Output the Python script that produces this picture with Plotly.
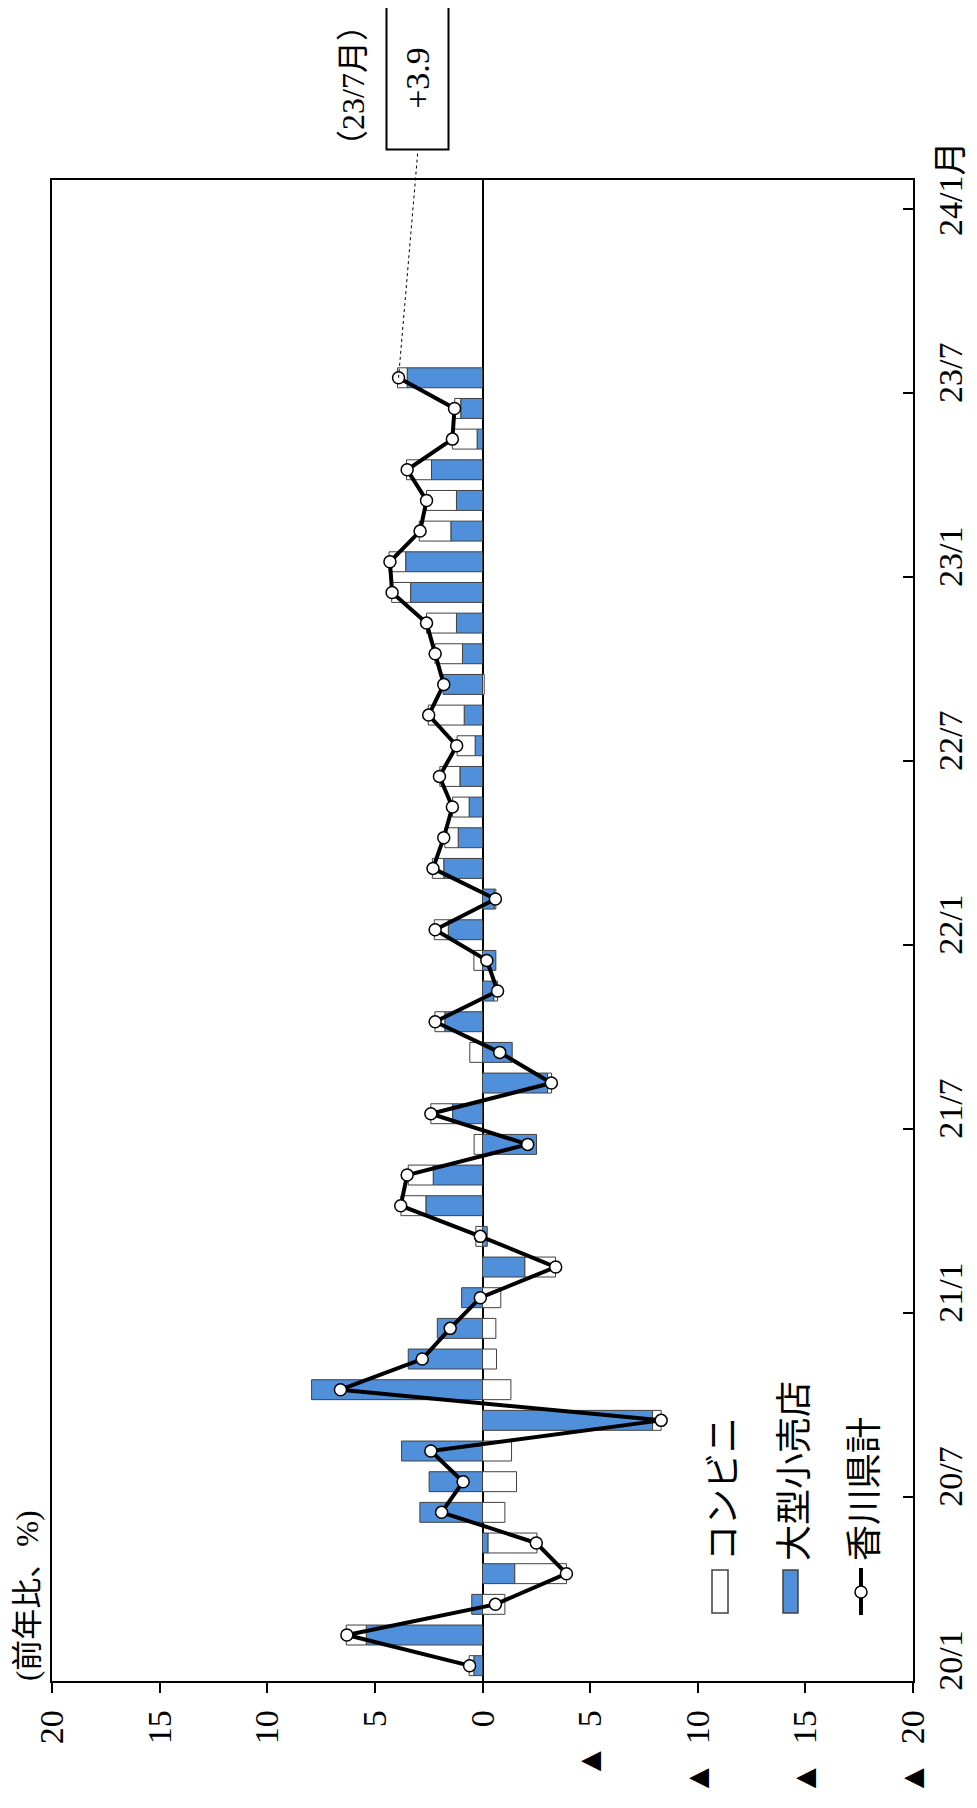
import plotly.graph_objects as go

# months on the time axis: 20/1 .. 24/1 (data ends at 23/7)
months = []
for yy in range(20, 25):
    for mm in range(1, 13):
        months.append(f"{yy}/{mm}")
axis_months = months[:months.index("24/1") + 1]
data_months = months[:months.index("23/7") + 1]

# 大型小売店 (percent points)
large_store = [0.40, 5.40, 0.50, -1.50, -0.26, 2.91, 2.48, 3.76, -7.90, 7.94, 3.45, 2.10,
               0.97, -1.97, -0.22, 2.63, 2.29, -2.51, 1.39, -3.02, -1.38, 1.75, -0.53, -0.62,
               1.59, -0.55, 1.80, 1.13, 0.62, 1.05, 0.34, 0.85, 1.83, 0.93, 1.21, 3.34,
               3.57, 1.47, 1.21, 2.37, 0.25, 1.01, 3.50]
# コンビニ
convenience = [0.22, 0.93, -1.04, -2.40, -2.27, -1.04, -1.58, -1.35, -0.40, -1.32, -0.65, -0.62,
               -0.85, -1.42, 0.31, 1.16, 1.16, 0.39, 1.01, -0.19, 0.59, 0.46, -0.17, 0.40,
               0.65, -0.07, 0.53, 0.62, 0.77, 0.93, 0.84, 1.67, -0.08, 1.28, 1.39, 0.88,
               0.77, 1.47, 1.39, 1.16, 1.15, 0.28, 0.45]
# 香川県計
total = [0.6, 6.3, -0.6, -3.9, -2.5, 1.9, 0.9, 2.4, -8.3, 6.6, 2.8, 1.5,
         0.1, -3.4, 0.1, 3.8, 3.5, -2.1, 2.4, -3.2, -0.8, 2.2, -0.7, -0.2,
         2.2, -0.6, 2.3, 1.8, 1.4, 2.0, 1.2, 2.5, 1.8, 2.2, 2.6, 4.2,
         4.3, 2.9, 2.6, 3.5, 1.4, 1.3, 3.9]

tick_months = ["20/1", "20/7", "21/1", "21/7", "22/1", "22/7", "23/1", "23/7", "24/1"]
tick_month_text = ["20/1", "20/7", "21/1", "21/7", "22/1", "22/7", "23/1", "23/7", "24/1月"]
value_ticks = [20, 15, 10, 5, 0, -5, -10, -15, -20]
value_text = ["20", "15", "10", "5", "0", "▲\u20025", "▲\u200210", "▲\u200215", "▲\u200220"]

BLUE = "#508FDA"
EDGE = "#404040"
FONT = "'Liberation Serif', 'Noto Sans CJK JP', serif"
JP_FONT = "'Noto Sans CJK JP', sans-serif"

# page size and plot area in page pixels; the html body adds an 8px margin
W, H = 977, 1808
BODY = 8
PL, PR, PT, PB = 52, 913, 180, 1681
Y_RANGE = [-0.5, 48.45]


def px(x):
    return (x - PL) / (PR - PL)


def py(y):
    return (PB - y) / (PB - PT)


fig = go.Figure()

fig.add_trace(go.Bar(
    x=large_store, y=data_months, orientation="h", name="大型小売店",
    marker=dict(color=BLUE, line=dict(color=EDGE, width=1)), width=0.65
))
fig.add_trace(go.Bar(
    x=convenience, y=data_months, orientation="h", name="コンビニ",
    marker=dict(color="white", line=dict(color=EDGE, width=1)), width=0.65
))
fig.add_trace(go.Scatter(
    x=total, y=data_months, mode="lines+markers", name="香川県計",
    line=dict(color="black", width=4),
    marker=dict(size=12, color="white", line=dict(color="black", width=1.5))
))

# hand-made legend (rotated like the rest of the chart)
shapes = [
    dict(type="rect", xref="paper", yref="paper", x0=px(712), x1=px(728), y0=py(1613), y1=py(1570),
         fillcolor="white", line=dict(color=EDGE, width=1.5)),
    dict(type="rect", xref="paper", yref="paper", x0=px(783), x1=px(798), y0=py(1613), y1=py(1570),
         fillcolor=BLUE, line=dict(color=EDGE, width=1.5)),
    dict(type="line", xref="paper", yref="paper", x0=px(861), x1=px(861), y0=py(1615), y1=py(1568),
         line=dict(color="black", width=4)),
    dict(type="circle", xref="paper", yref="paper", x0=px(855), x1=px(867), y0=py(1598), y1=py(1586),
         fillcolor="white", line=dict(color="black", width=1.5)),
]

# leader line from the last point to the callout box
last_idx = len(total) - 1
shapes.append(dict(
    type="line", xref="x", yref="y domain",
    x0=total[-1], y0=(last_idx - Y_RANGE[0]) / (Y_RANGE[1] - Y_RANGE[0]),
    x1=(482.7 - 418) / 21.54, y1=py(151),
    line=dict(color="black", width=1, dash="3px,3px")
))

annotations = []
for label, xc in [("コンビニ", 720), ("大型小売店", 791), ("香川県計", 861)]:
    annotations.append(dict(
        text=label, xref="paper", yref="paper", x=px(xc), y=py(1563),
        xanchor="center", yanchor="bottom", textangle=-90, showarrow=False,
        font=dict(size=36, color="black", family=JP_FONT)
    ))

annotations.append(dict(
    text="(前年比、%)", xref="paper", yref="paper", x=px(27), y=py(1683),
    xanchor="center", yanchor="bottom", textangle=-90, showarrow=False,
    font=dict(size=31, color="black", family=FONT)
))
annotations.append(dict(
    text="（23/7月）", xref="paper", yref="paper", x=px(353), y=py(86),
    xanchor="center", yanchor="middle", textangle=-90, showarrow=False,
    font=dict(size=32, color="black", family=FONT)
))
annotations.append(dict(
    text=f"+{total[-1]:.1f}", xref="paper", yref="paper", x=px(418), y=py(78.5),
    xanchor="center", yanchor="middle", textangle=-90, showarrow=False,
    width=141, height=60, borderpad=0, bordercolor="black", borderwidth=2, bgcolor="white",
    font=dict(size=34, color="black", family=FONT)
))

fig.update_layout(
    width=W - BODY, height=H - BODY,
    margin=dict(l=PL - BODY, r=W - PR, t=PT - BODY, b=H - PB, autoexpand=False),
    barmode="relative",
    plot_bgcolor="white", paper_bgcolor="white",
    showlegend=False,
    font=dict(family=FONT, color="black", size=33),
    xaxis=dict(
        range=[20, -20], tickmode="array", tickvals=value_ticks, ticktext=value_text,
        tickangle=-90, ticks="outside", ticklen=10, tickcolor="black", tickwidth=1.5,
        showline=True, linecolor="black", linewidth=1.5, mirror=True,
        showgrid=False, zeroline=True, zerolinecolor="black", zerolinewidth=1.5,
        tickfont=dict(size=34, family=FONT, color="black"), ticklabelstandoff=4,
        automargin=False,
    ),
    yaxis=dict(
        type="category", categoryorder="array", categoryarray=axis_months,
        range=Y_RANGE, side="right", tickmode="array", tickvals=tick_months, ticktext=tick_month_text,
        tickson="boundaries", ticks="inside", ticklen=10, tickcolor="black", tickwidth=1.5,
        tickangle=-90, showline=True, linecolor="black", linewidth=1.5, mirror=True,
        showgrid=False, tickfont=dict(size=34, family=FONT, color="black"), ticklabelstandoff=6,
        automargin=False,
    ),
    shapes=shapes,
    annotations=annotations,
)

fig.write_html("out.html")
